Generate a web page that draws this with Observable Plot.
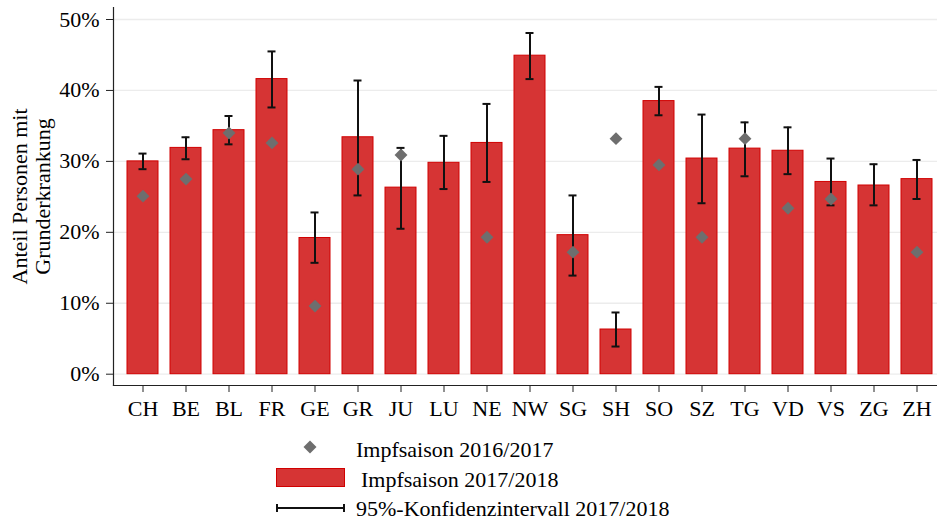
<!DOCTYPE html>
<html>
<head>
<meta charset="utf-8">
<script src="https://cdn.jsdelivr.net/npm/d3@7"></script>
<script src="https://cdn.jsdelivr.net/npm/@observablehq/plot@0.6"></script>
<style>
  html, body { margin: 0; padding: 0; background: #fff; }
  #wrap { position: relative; width: 937px; height: 521px; overflow: hidden; font-family: "Liberation Serif", "Times New Roman", serif; }
  #legend { position: absolute; left: 0; top: 0; }
</style>
</head>
<body>
<div id="wrap"></div>
<script>
// Kantone (categories)
const cantons = ["CH","BE","BL","FR","GE","GR","JU","LU","NE","NW","SG","SH","SO","SZ","TG","VD","VS","ZG","ZH"];
// Impfsaison 2017/2018 (%)
const share1718 = [30.0,31.9,34.4,41.6,19.2,33.4,26.3,29.8,32.6,44.9,19.6,6.3,38.5,30.4,31.8,31.5,27.1,26.6,27.5];
// 95%-Konfidenzintervall 2017/2018 (%)
const ciLow  = [28.9,30.3,32.4,37.6,15.7,25.2,20.5,26.1,27.1,41.6,13.9,3.9,36.5,24.1,27.9,28.2,23.8,23.8,24.7];
const ciHigh = [31.1,33.4,36.4,45.5,22.8,41.4,31.9,33.6,38.1,48.1,25.2,8.7,40.5,36.6,35.5,34.8,30.4,29.6,30.2];
// Impfsaison 2016/2017 (%), null = no value
const share1617 = [25.1,27.5,34.0,32.6,9.6,28.9,30.9,null,19.3,null,17.2,33.2,29.5,19.3,33.2,23.4,24.7,null,17.2];
// y tick values
const yTicks = [0,10,20,30,40,50];

const rows = cantons.map((c, i) => ({
  canton: c, v: share1718[i], lo: ciLow[i], hi: ciHigh[i], prev: share1617[i]
}));
const prevRows = rows.filter(d => d.prev != null);

const FONT = "Liberation Serif";
const FS = 22;
const chart = Plot.plot({
  width: 937,
  height: 420,
  marginLeft: 113,
  marginRight: 0,
  marginTop: 7,
  marginBottom: 35,
  style: { fontFamily: FONT, fontSize: FS + "px", color: "#000", background: "#fff" },
  x: { domain: cantons, range: [122, 937], paddingInner: 0.284, paddingOuter: 0.058, label: null },
  y: { domain: [0, 50], range: [373.7, 19], label: null },
  marks: [
    Plot.gridY(yTicks, { stroke: "#ececec", strokeOpacity: 1, strokeWidth: 1.3 }),
    Plot.barY(rows, { x: "canton", y: "v", fill: "#d63434", stroke: "#d10000", strokeWidth: 1 }),
    Plot.ruleX(rows, { x: "canton", y1: "lo", y2: "hi", stroke: "#111", strokeWidth: 2 }),
    Plot.tickY(rows, { x: "canton", y: "lo", stroke: "#111", strokeWidth: 2, insetLeft: 11.5, insetRight: 11.5 }),
    Plot.tickY(rows, { x: "canton", y: "hi", stroke: "#111", strokeWidth: 2, insetLeft: 11.5, insetRight: 11.5 }),
    Plot.dot(prevRows, { x: "canton", y: "prev", symbol: "diamond2", r: 5.8, fill: "#6e6e6e", stroke: "none" }),
    Plot.frame({ anchor: "left", stroke: "#222", strokeWidth: 1.2 }),
    Plot.frame({ anchor: "bottom", stroke: "#222", strokeWidth: 1.2 }),
    Plot.axisY({ ticks: yTicks, tickFormat: d => d + "%", tickSize: 7, tickPadding: 7, fontSize: FS, label: null, stroke: "#222", fill: "#000" }),
    Plot.axisX({ tickSize: 7, tickPadding: 8, fontSize: FS, label: null, stroke: "#222", fill: "#000" }),
    Plot.text(["Anteil Personen mit\nGrunderkrankung"], {
      frameAnchor: "left", text: d => d, rotate: -90, dx: -82.5, fontSize: FS,
      textAnchor: "middle", lineAnchor: "middle", lineHeight: 1.05, fill: "#000"
    })
  ]
});
const wrap = document.getElementById("wrap");
wrap.appendChild(chart);

// Legend below the chart
const NS = "http://www.w3.org/2000/svg";
const lg = document.createElementNS(NS, "svg");
lg.setAttribute("id", "legend");
lg.setAttribute("width", 937);
lg.setAttribute("height", 521);
lg.innerHTML = `
  <g font-family="${FONT}" font-size="${FS}" fill="#000">
    <path d="M310,440.5 L316.5,447 L310,453.5 L303.5,447 Z" fill="#6e6e6e"/>
    <text x="356" y="457">Impfsaison 2016/2017</text>
    <rect x="276.5" y="468.5" width="68" height="18" fill="#d63434" stroke="#d10000" stroke-width="1"/>
    <text x="361" y="486.5">Impfsaison 2017/2018</text>
    <line x1="277" y1="508" x2="344" y2="508" stroke="#111" stroke-width="2"/>
    <line x1="277" y1="504" x2="277" y2="512" stroke="#111" stroke-width="2"/>
    <line x1="344" y1="504" x2="344" y2="512" stroke="#111" stroke-width="2"/>
    <text x="356" y="515.5">95%-Konfidenzintervall 2017/2018</text>
  </g>`;
wrap.appendChild(lg);
</script>
</body>
</html>
